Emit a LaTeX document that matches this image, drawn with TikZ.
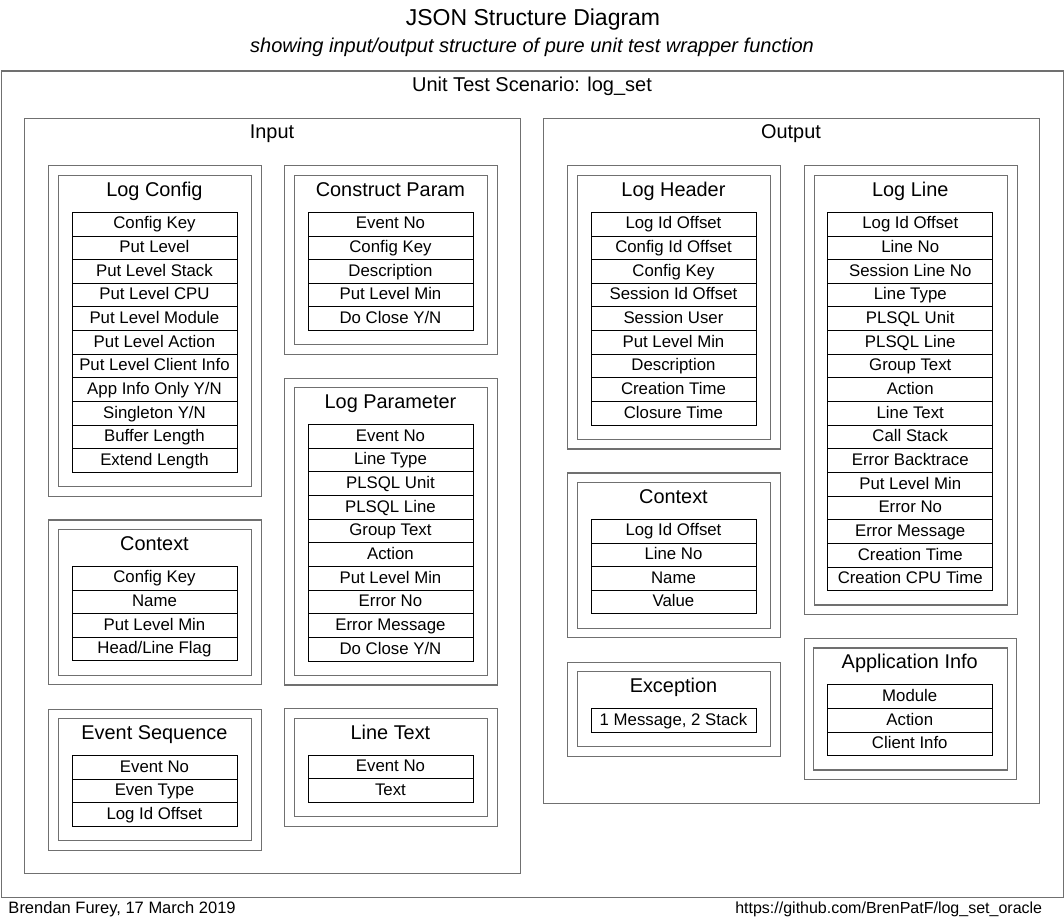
\documentclass[tikz,border=0pt]{standalone}
\usepackage{fontspec}
\setmainfont{Liberation Sans}
\definecolor{framegray}{HTML}{707070}
\tikzset{
  field/.style={draw=black, line width=0.9pt, minimum width=165pt, minimum height=23.65pt,
    inner sep=0pt, text height=9.7pt, text depth=0pt, font={\fontsize{16.8}{18}\selectfont}},
  grpo/.style={draw=framegray, line width=1.2pt, inner sep=0pt},
  gtitle/.style={inner sep=0pt, font={\fontsize{19.9}{22}\selectfont}},
  bigbox/.style={draw=framegray, line width=1.2pt, inner sep=0pt, anchor=north west},
  foot/.style={inner sep=0pt, font={\fontsize{16.5}{18}\selectfont}},
  urlfoot/.style={inner sep=0pt, font={\fontsize{16}{18}\selectfont}}
}
% #1 name, #2 outer left x, #3 outer top y, #4 title, #5 fields
\newcommand\grpbox[5]{%
  \foreach \f [count=\i] in {#5} {%
    \node[field] (#1-\i) at ({#2+106.25},{#3+47+(\i-0.5)*23.65}) {\f};
    \xdef\grpn{\i}%
  }%
  \pgfmathsetmacro\grpfb{#3+47+\grpn*23.65}%
  \node[grpo, anchor=north west, minimum width=212.5pt, minimum height={\grpfb-(#3)+23.2}] (#1-outer) at (#2,#3) {};
  \node[grpo, anchor=north west, minimum width=193.5pt, minimum height={\grpfb-(#3)+4.2}] (#1-inner) at ({#2+9.5},{#3+9.5}) {};
  \node[gtitle, anchor=base] (#1-title) at ({#2+106.25},{#3+31}) {#4};
}
\begin{document}
\begin{tikzpicture}[x=1pt,y=-1pt]
\useasboundingbox (0,0) rectangle (1064,920);
% headings
\node[inner sep=0pt, anchor=base, font={\fontsize{23}{26}\selectfont}] (title) at (533,25.5) {JSON Structure Diagram};
\node[inner sep=0pt, anchor=base, font={\fontsize{20}{24}\itshape\selectfont}] (subtitle) at (532,52.5) {showing input/output structure of pure unit test wrapper function};
% frames
\node[bigbox, minimum width=1061.5pt, minimum height=826.2pt] (frame) at (1,70.5) {};
\node[inner sep=0pt, anchor=base, font={\fontsize{20}{24}\selectfont}] (scen) at (532,92) {Unit Test Scenario: log\_set};
\node[bigbox, minimum width=496pt, minimum height=755pt] (input) at (24,118) {};
\node[gtitle, anchor=base] (inputtitle) at (272,139) {Input};
\node[bigbox, minimum width=496pt, minimum height=685pt] (output) at (543,118) {};
\node[gtitle, anchor=base] (outputtitle) at (791,139) {Output};
% input groups
\grpbox{lc}{48.2}{165.3}{Log Config}{Config Key,Put Level,Put Level Stack,Put Level CPU,Put Level Module,Put Level Action,Put Level Client Info,App Info Only Y/N,Singleton Y/N,Buffer Length,Extend Length}
\grpbox{ic}{48.2}{519.3}{Context}{Config Key,Name,Put Level Min,Head/Line Flag}
\grpbox{es}{48.2}{708.5}{Event Sequence}{Event No,Even Type,Log Id Offset}
\grpbox{cp}{284.2}{165.3}{Construct Param}{Event No,Config Key,Description,Put Level Min,Do Close Y/N}
\grpbox{lp}{284.2}{377.6}{Log Parameter}{Event No,Line Type,PLSQL Unit,PLSQL Line,Group Text,Action,Put Level Min,Error No,Error Message,Do Close Y/N}
\grpbox{lt}{284.2}{708.2}{Line Text}{Event No,Text}
% output groups
\grpbox{lh}{567.2}{165.3}{Log Header}{Log Id Offset,Config Id Offset,Config Key,Session Id Offset,Session User,Put Level Min,Description,Creation Time,Closure Time}
\grpbox{oc}{567.2}{472.3}{Context}{Log Id Offset,Line No,Name,Value}
\grpbox{ex}{567.2}{661.7}{Exception}{{1 Message, 2 Stack}}
\grpbox{ll}{804}{165.3}{Log Line}{Log Id Offset,Line No,Session Line No,Line Type,PLSQL Unit,PLSQL Line,Group Text,Action,Line Text,Call Stack,Error Backtrace,Put Level Min,Error No,Error Message,Creation Time,Creation CPU Time}
\grpbox{ai}{803.5}{637.8}{Application Info}{Module,Action,Client Info}
% footer
\node[foot, anchor=base west] (author) at (8.3,913) {Brendan Furey, 17 March 2019};
\node[urlfoot, anchor=base east] (url) at (1042.3,913) {https://github.com/BrenPatF/log\_set\_oracle};
\end{tikzpicture}
\end{document}
